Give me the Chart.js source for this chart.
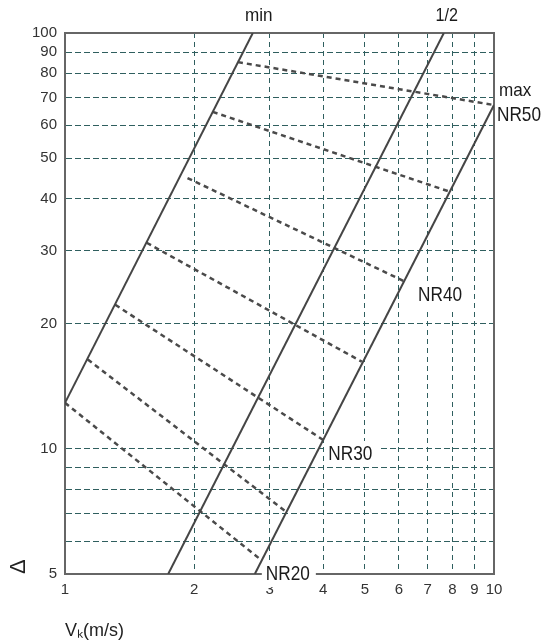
<!DOCTYPE html>
<html>
<head>
<meta charset="utf-8">
<script src="https://cdn.jsdelivr.net/npm/chart.js@4.4.1/dist/chart.umd.min.js"></script>
<style>
  html, body { margin: 0; padding: 0; background: #fff; }
</style>
</head>
<body>
<canvas id="nrChart" width="548" height="644"></canvas>
<script>
// Axis ticks
const xTicks = [1, 2, 3, 4, 5, 6, 7, 8, 9, 10];
const yTicks = [5, 6, 7, 8, 9, 10, 20, 30, 40, 50, 60, 70, 80, 90, 100];
const yLabelled = [5, 10, 20, 30, 40, 50, 60, 70, 80, 90, 100];

// Solid lines, [Vk, Δ]
const lineMin = [[1.0, 12.9], [2.74, 100]];
const lineHalf = [[1.74, 5], [7.64, 100]];
const lineMax = [[2.77, 5], [10, 67.1]];

// Dashed NR curves, [Vk, Δ]
const nr50 = [[2.53, 85.1], [10, 67.1]];
const nr45 = [[2.21, 64.6], [7.9, 41.5]];
const nr40 = [[1.93, 44.8], [6.17, 25.3]];
const nr35 = [[1.55, 31.3], [4.92, 16.2]];
const nr30 = [[1.31, 22.2], [4.0, 10.5]];
const nr25 = [[1.13, 16.4], [3.28, 7.05]];
const nr20 = [[1.0, 12.9], [2.83, 5.46]];

const FONT = '"Liberation Sans", Arial, sans-serif';

const toPts = (arr) => arr.map(([x, y]) => ({ x, y }));

const solid = (data) => ({
  data: toPts(data),
  borderColor: "#454545",
  borderWidth: 2,
  pointRadius: 0,
});
const dashed = (data) => ({
  data: toPts(data),
  borderColor: "#4a4a4a",
  borderWidth: 2.5,
  borderDash: [5, 4],
  pointRadius: 0,
});

// Text next to the curves: anchored on a curve end, shifted a little.
// The source uses a condensed face, so text is squeezed horizontally.
const curveLabels = [
  { text: "min", at: lineMin[1], dx: 6, dy: -17, align: "center", size: 19, sx: 0.9 },
  { text: "1/2", at: lineHalf[1], dx: 3, dy: -17, align: "center", size: 19, sx: 0.85 },
  { text: "max", at: lineMax[1], dx: 5, dy: -14, align: "left", size: 19, sx: 0.9 },
  { text: "NR50", at: lineMax[1], dx: 3, dy: 10, align: "left", size: 21, sx: 0.82 },
  { text: "NR40", at: nr40[1], dx: 14, dy: 14, align: "left", size: 21, sx: 0.82, box: true },
  { text: "NR30", at: nr30[1], dx: 5, dy: 14, align: "left", size: 21, sx: 0.82, box: true },
  { text: "NR20", at: nr20[1], dx: 7, dy: 16, align: "left", size: 21, sx: 0.82, box: true },
];

const annotate = {
  id: "annotate",
  beforeDatasetsDraw(chart) {
    const { ctx, chartArea: a, scales } = chart;
    ctx.save();
    // frame
    ctx.strokeStyle = "#666";
    ctx.lineWidth = 2;
    ctx.strokeRect(a.left, a.top, a.right - a.left, a.bottom - a.top);

    ctx.textBaseline = "middle";
    curveLabels.forEach((l) => {
      const px = scales.x.getPixelForValue(l.at[0]) + l.dx;
      const py = scales.y.getPixelForValue(l.at[1]) + l.dy;
      ctx.font = l.size + "px " + FONT;
      ctx.textAlign = l.align;
      if (l.box) {
        const w = ctx.measureText(l.text).width * l.sx;
        ctx.fillStyle = "#fff";
        ctx.fillRect(px - 4, py - 13, w + 10, 26);
      }
      ctx.save();
      ctx.translate(px, py);
      ctx.scale(l.sx, 1);
      ctx.fillStyle = "#1a1a1a";
      ctx.fillText(l.text, 0, 0);
      ctx.restore();
    });
    ctx.restore();
  },
};

new Chart(document.getElementById("nrChart"), {
  type: "line",
  data: {
    datasets: [
      solid(lineMin),
      solid(lineHalf),
      solid(lineMax),
      dashed(nr50),
      dashed(nr45),
      dashed(nr40),
      dashed(nr35),
      dashed(nr30),
      dashed(nr25),
      dashed(nr20),
    ],
  },
  options: {
    responsive: false,
    animation: false,
    layout: { padding: { top: 33, right: 54, left: 0, bottom: 0 } },
    plugins: { legend: { display: false }, tooltip: { enabled: false } },
    scales: {
      x: {
        type: "logarithmic",
        min: 1,
        max: 10,
        afterBuildTicks: (s) => { s.ticks = xTicks.map((v) => ({ value: v })); },
        afterFit: (s) => { s.height = 70; },
        ticks: {
          autoSkip: false,
          maxRotation: 0,
          padding: 7,
          color: "#333",
          font: { family: FONT, size: 15 },
          callback: (v) => String(v),
        },
        grid: { color: "#2f5f5f", lineWidth: 1, drawTicks: false },
        border: { color: "#666", width: 2, dash: [5, 4] },
        title: {
          display: true,
          text: "Vₖ(m/s)",
          align: "start",
          color: "#222",
          font: { family: FONT, size: 18 },
          padding: { bottom: 2 },
        },
      },
      y: {
        type: "logarithmic",
        min: 5,
        max: 100,
        afterBuildTicks: (s) => { s.ticks = yTicks.map((v) => ({ value: v })); },
        afterFit: (s) => { s.width = 65; },
        ticks: {
          autoSkip: false,
          padding: 8,
          color: "#333",
          font: { family: FONT, size: 15 },
          callback: (v) => (yLabelled.includes(v) ? String(v) : ""),
        },
        grid: { color: "#2f5f5f", lineWidth: 1, drawTicks: false },
        border: { color: "#666", width: 2, dash: [6, 3] },
        title: {
          display: true,
          text: "Δ",
          align: "start",
          color: "#222",
          font: { family: FONT, size: 22 },
          padding: { top: 6 },
        },
      },
    },
  },
  plugins: [annotate],
});
</script>
</body>
</html>
